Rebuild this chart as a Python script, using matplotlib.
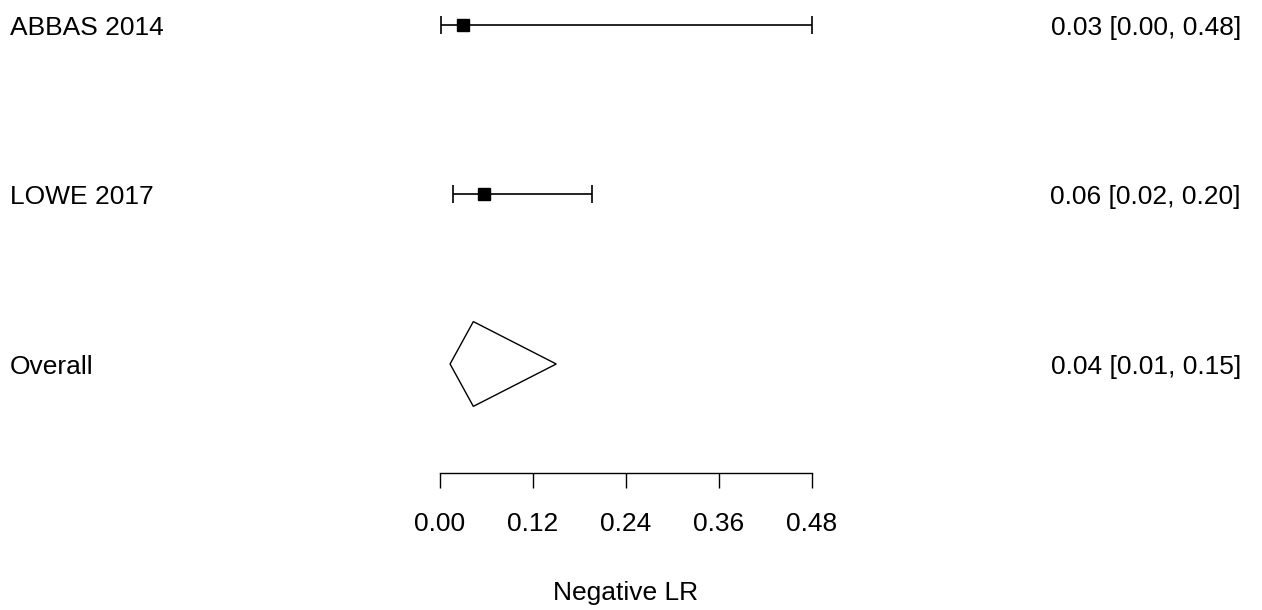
import matplotlib
matplotlib.use("Agg")
import matplotlib.pyplot as plt
import matplotlib.transforms as mtransforms
from matplotlib.patches import Polygon

plt.rcParams['font.family'] = ['Liberation Sans', 'DejaVu Sans']

studies = ["ABBAS 2014", "LOWE 2017"]
est = [0.030, 0.057]
lower = [0.001, 0.017]
upper = [0.480, 0.196]
labels_right = ["0.03 [0.00, 0.48]", "0.06 [0.02, 0.20]"]

overall_label = "Overall"
overall_est = 0.043
overall_lower = 0.013
overall_upper = 0.150
overall_text = "0.04 [0.01, 0.15]"

xticks = [0.00, 0.12, 0.24, 0.36, 0.48]
xticklabels = ["0.00", "0.12", "0.24", "0.36", "0.48"]
xlabel = "Negative LR"

W, H = 1262, 610
fig = plt.figure(figsize=(W / 100, H / 100), dpi=100)
fig.patch.set_facecolor("white")

# axes: x 0 -> px 440, 0.48 -> px 812 ; bottom at px 473, top at px 0
ax = fig.add_axes([440 / W, (H - 473) / H, 372 / W, 473 / H])
ax.set_xlim(0, 0.48)
ax.set_ylim(0.357, 3.147)

fs = 19
tr = mtransforms.blended_transform_factory(fig.transFigure, ax.transData)
tr = tr + mtransforms.ScaledTranslation(0, -10 / 100, fig.dpi_scale_trans)


def row_text(r, left, right):
    fig.text(10 / W, r, left, fontsize=fs, ha="left", va="baseline", transform=tr)
    fig.text(1241 / W, r, right, fontsize=fs, ha="right", va="baseline", transform=tr)


rows = [3, 2]
cap = 0.053
for r, name, e, lo, hi, lab in zip(rows, studies, est, lower, upper, labels_right):
    ax.plot([lo, hi], [r, r], color="black", lw=1.2, solid_capstyle="butt", clip_on=False)
    ax.vlines([lo, hi], r - cap, r + cap, color="black", lw=1.2, clip_on=False)
    ax.plot([e], [r], marker="s", color="black", markersize=8.6, clip_on=False)
    row_text(r, name, lab)

r = 1
h = 0.25
poly = Polygon([[overall_est, r + h], [overall_upper, r], [overall_est, r - h], [overall_lower, r]],
               closed=True, facecolor="white", edgecolor="black", lw=1.0, clip_on=False)
ax.add_patch(poly)
row_text(r, overall_label, overall_text)

for s in ["top", "right", "left"]:
    ax.spines[s].set_visible(False)
ax.spines["bottom"].set_bounds(0, 0.48)
ax.spines["bottom"].set_linewidth(1.0)
ax.set_yticks([])
ax.set_xticks(xticks)
ax.set_xticklabels(xticklabels, fontsize=fs)
ax.tick_params(axis="x", direction="out", length=10.8, width=1.0, pad=17, colors="black")
ax.patch.set_visible(False)

fig.text(626 / W, 1 - 600 / H, xlabel, fontsize=fs, ha="center", va="baseline")

fig.savefig("out.png", dpi=100, facecolor="white")
